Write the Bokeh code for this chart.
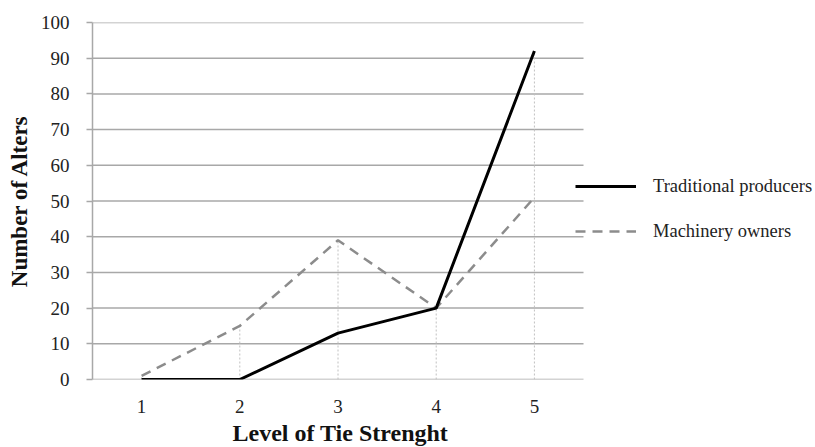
from bokeh.plotting import figure
from bokeh.models import Legend, LegendItem, Range1d, FixedTicker, Title
from bokeh.embed import file_html
from bokeh.resources import INLINE
import numpy as np

levels = [1, 2, 3, 4, 5]
traditional = [0, 0, 13, 20, 92]
machinery = [1, 15, 39, 20, 51]
y_ticks = [0, 10, 20, 30, 40, 50, 60, 70, 80, 90, 100]

FONT = "Liberation Serif"
GRID = "#a8a8a8"

X0, X1 = 0.5, 5.5
PLOT_W = 491          # pixel width of the data region (0.5 .. 5.5)
FRAME_W = 722         # frame extends to the right to host the legend
x_end = X0 + (X1 - X0) * FRAME_W / PLOT_W

p = figure(frame_width=FRAME_W, frame_height=357, output_backend="svg",
           toolbar_location=None, x_range=Range1d(X0, x_end), y_range=Range1d(0, 100),
           min_border_left=92, min_border_top=22, min_border_right=0, min_border_bottom=67)
p.outline_line_color = None
p.background_fill_color = "white"
p.border_fill_color = "white"

# horizontal gridlines limited to the data region
p.segment(x0=[X0] * len(y_ticks), y0=y_ticks, x1=[X1] * len(y_ticks), y1=y_ticks,
          line_color=GRID, line_width=1.5)

# drop lines
drop_top = np.maximum(np.array(traditional), np.array(machinery))
p.segment(x0=levels, y0=[0] * len(levels), x1=levels, y1=drop_top,
          line_color="#c0c0c0", line_width=1, line_dash="2 2")

r_m = p.line(levels, machinery, line_color="#8c8c8c", line_width=2.5, line_dash="10 7")
r_t = p.line(levels, traditional, line_color="black", line_width=3)

p.xgrid.grid_line_color = None
p.ygrid.grid_line_color = None
p.yaxis.ticker = FixedTicker(ticks=y_ticks)
p.xaxis.ticker = FixedTicker(ticks=levels)

p.yaxis.axis_line_color = GRID
p.yaxis.axis_line_width = 1.5
p.yaxis.major_tick_line_color = GRID
p.yaxis.major_tick_line_width = 1.5
p.yaxis.major_tick_out = 6
p.yaxis.major_tick_in = 0
p.yaxis.minor_tick_line_color = None
p.yaxis.major_label_standoff = 17
p.yaxis.major_label_text_font = FONT
p.yaxis.major_label_text_font_size = "19px"
p.yaxis.major_label_text_color = "#222222"
p.yaxis.axis_label = "Number of Alters"
p.yaxis.axis_label_text_font = FONT
p.yaxis.axis_label_text_font_style = "bold"
p.yaxis.axis_label_text_font_size = "23px"
p.yaxis.axis_label_text_color = "#111111"
p.yaxis.axis_label_standoff = 6

p.xaxis.axis_line_color = None
p.xaxis.major_tick_line_color = None
p.xaxis.minor_tick_line_color = None
p.xaxis.major_label_standoff = 14
p.xaxis.major_label_text_font = FONT
p.xaxis.major_label_text_font_size = "19px"
p.xaxis.major_label_text_color = "#222222"

xtitle = Title(text="Level of Tie Strenght", align="left", offset=140, standoff=4,
               text_font=FONT, text_font_style="bold", text_font_size="24px",
               text_color="#111111")
p.add_layout(xtitle, "below")

legend = Legend(items=[LegendItem(label="Traditional producers", renderers=[r_t]),
                       LegendItem(label="Machinery owners", renderers=[r_m])],
                location=(483, 137), padding=0, margin=0, spacing=23,
                glyph_width=61, glyph_height=22, label_height=22, label_standoff=17,
                label_text_font=FONT, label_text_font_size="18.5px", label_text_color="#222222",
                border_line_color=None, background_fill_alpha=0)
p.add_layout(legend, "center")

open("out.html", "w").write(file_html(p, INLINE))
